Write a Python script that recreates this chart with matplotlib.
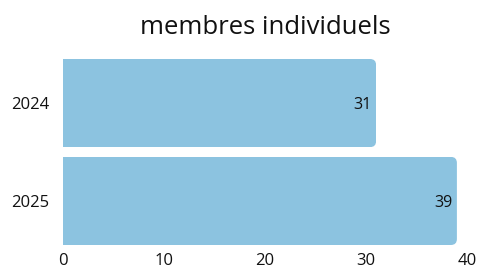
import matplotlib
matplotlib.use("Agg")
import matplotlib.pyplot as plt
from matplotlib.patches import FancyBboxPatch

categories = ["2024", "2025"]
values = [31, 39]
xticks = [0, 10, 20, 30, 40]
title = "membres individuels"

plt.rcParams['font.family'] = ['Open Sans', 'DejaVu Sans']

fig = plt.figure(figsize=(4.82, 2.71), dpi=100)
ax = fig.add_axes([63/482, 26/271, 404/482, 186/271])

color = "#8cc3e0"
bars = ax.barh(range(len(categories)), values, height=0.9, color=color, edgecolor="none")
ax.set_xlim(0, 40)
ax.set_ylim(1.45, -0.45)

for b in bars:
    x0, y0 = b.get_x(), b.get_y()
    w, h = b.get_width(), b.get_height()
    clip = FancyBboxPatch((x0 - 2, y0), w + 2, h,
                          boxstyle="round,pad=0,rounding_size=0.6",
                          mutation_aspect=0.0103 / 0.1, transform=ax.transData)
    b.set_clip_path(clip)

for i, v in enumerate(values):
    ax.text(v - 0.45, i + 0.02, str(v), ha="right", va="center", fontsize=11.5, color="#111111")

ax.set_yticks(range(len(categories)))
ax.set_yticklabels(categories)
ax.set_xticks(xticks)
ax.tick_params(axis="both", length=0, labelsize=12, colors="#111111")
ax.tick_params(axis="y", pad=10)
ax.tick_params(axis="x", pad=6)
for s in ax.spines.values():
    s.set_visible(False)

fig.text(265/482, 1 - 28/271, title, ha="center", va="center", fontsize=18.5, color="#111111")

fig.savefig("out.png", dpi=100, facecolor="white")
